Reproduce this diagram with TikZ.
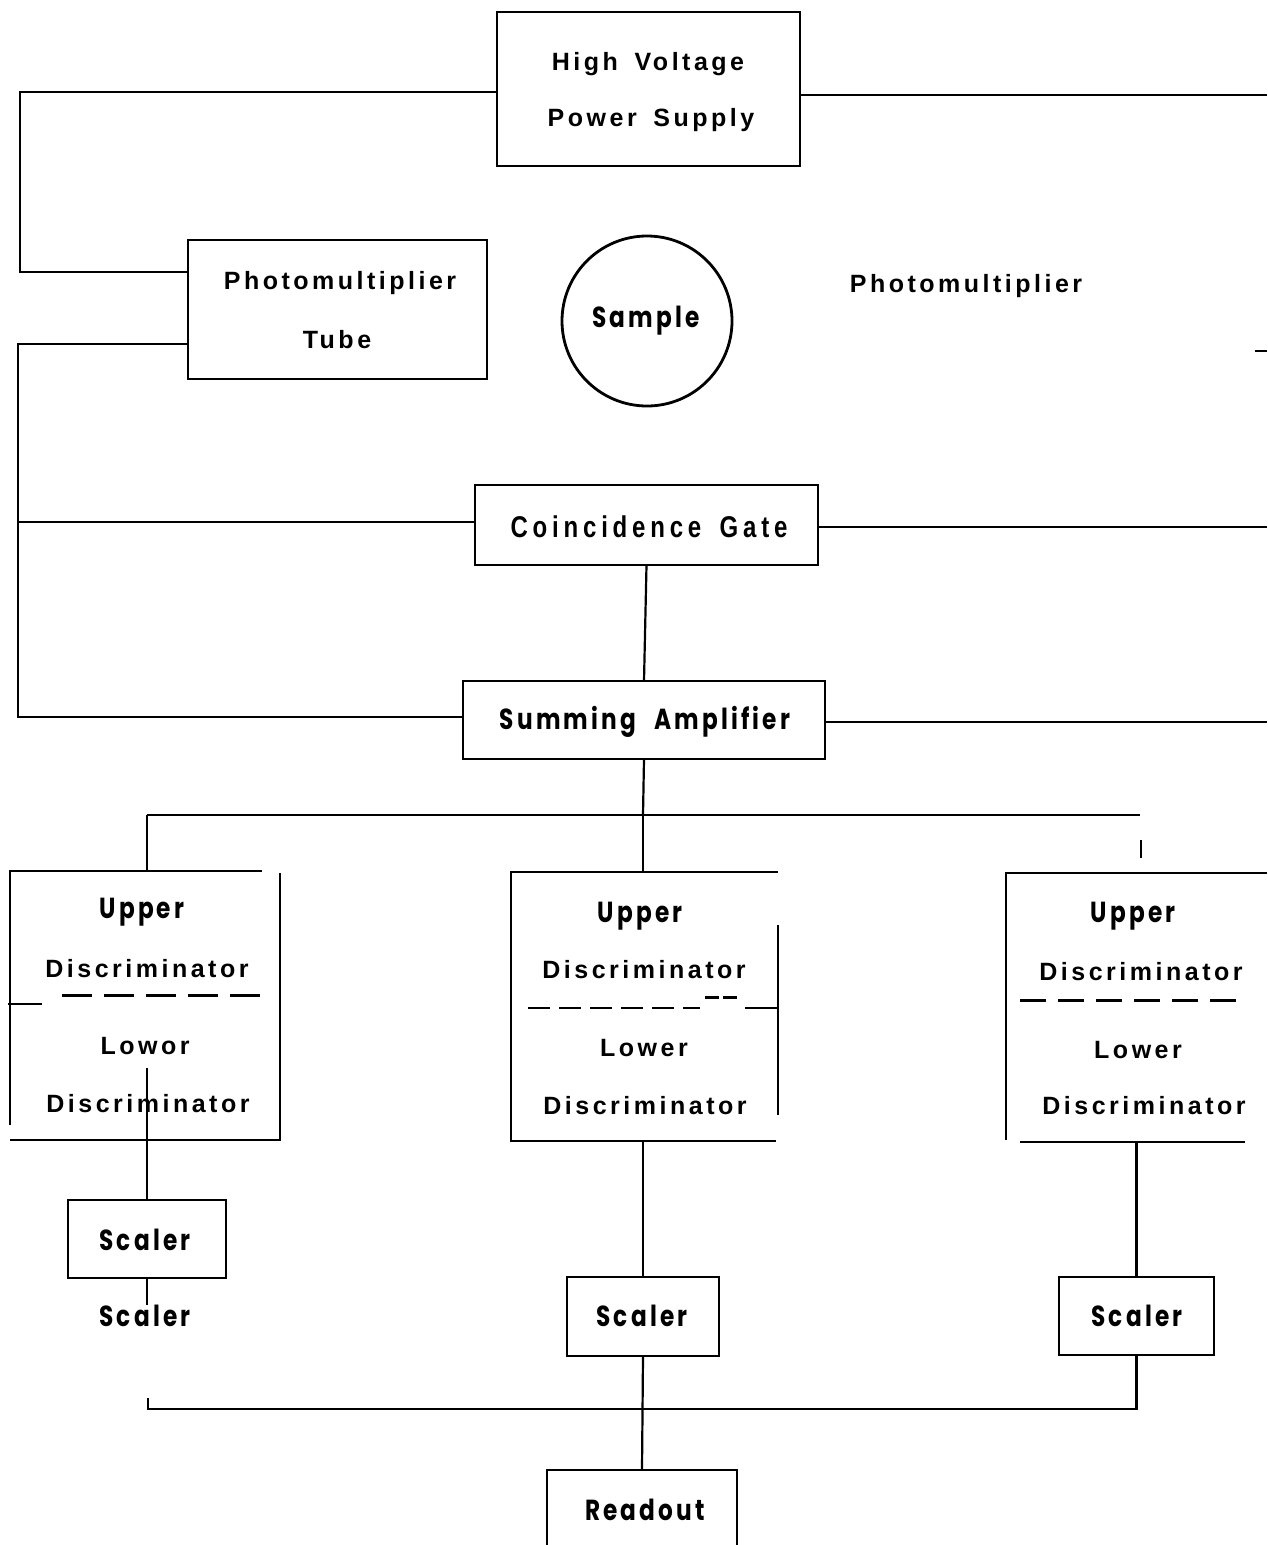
\documentclass[tikz,border=0pt]{standalone}
\usepackage{fontspec}
\newfontfamily\lblfont{Liberation Sans}[LetterSpace=14,WordSpace=1.6]
\newfontfamily\cndfont{Liberation Sans}[FakeStretch=0.8,LetterSpace=16,WordSpace=1.6]
\newfontfamily\geofont{Poppins}[FakeStretch=0.8,LetterSpace=11,WordSpace=2.2]
\begin{document}
\begin{tikzpicture}[x=1pt,y=-1pt,
  box/.style={draw,line width=2.8pt,inner sep=0pt,outer sep=0pt},
  lbl/.style={inner sep=0pt,text height=17pt,text depth=0pt,font=\lblfont\bfseries\fontsize{25}{25}\selectfont},
  cnd/.style={inner sep=0pt,text height=22pt,text depth=0pt,font=\cndfont\bfseries\fontsize{30}{30}\selectfont},
  geo/.style={inner sep=0pt,text height=21pt,text depth=0pt,font=\geofont\bfseries\fontsize{29}{29}\selectfont},
  wire/.style={line width=2.8pt},
  thinwire/.style={line width=2.2pt},
  frame/.style={line width=2.8pt},
  sepline/.style={line width=3pt,dash pattern=on 30pt off 12pt}
]
\useasboundingbox (0,0) rectangle (1267,1545);

% boxes
\node[box,minimum width=303pt,minimum height=154pt] (hv) at (648.5,89) {};
\node[box,minimum width=299pt,minimum height=139pt] (pmt) at (337.5,309.5) {};
\node[box,circle,minimum size=170pt] (smp) at (647,321) {};
\node[box,minimum width=343pt,minimum height=80pt] (cg) at (646.5,525) {};
\node[box,minimum width=362pt,minimum height=78pt] (sa) at (644,720) {};
\node[box,minimum width=158pt,minimum height=78pt] (sc1) at (147,1239) {};
\node[box,minimum width=152pt,minimum height=79pt] (sc2) at (643,1316.5) {};
\node[box,minimum width=155pt,minimum height=78pt] (sc3) at (1136.5,1316) {};
\node[box,minimum width=190pt,minimum height=76pt] (ro) at (642,1508) {};

% discriminator frames (drawn open as in the original)
\node[inner sep=0pt,minimum width=270pt,minimum height=269pt] (d1) at (145,1005.5) {};
\node[inner sep=0pt,minimum width=267pt,minimum height=269pt] (d2) at (644.5,1006.5) {};
\node[inner sep=0pt,minimum width=261pt,minimum height=268pt] (d3) at (1136.5,1007) {};
\draw[frame] (262,871) -- (10,871) -- (10,1125);
\draw[frame] (280,873) -- (280,1140) -- (10,1140);
\draw[thinwire] (8,1004) -- (42,1004);
\draw[sepline] (62,995) -- (265,995);

\draw[frame] (778,872) -- (511,872) -- (511,1141) -- (776,1141);
\draw[thinwire] (778,925) -- (778,1115);
\draw[line width=2.4pt,dash pattern=on 22pt off 9pt] (528,1008) -- (700,1008);
\draw[line width=3pt,dash pattern=on 14pt off 4pt] (705,997) -- (740,997);
\draw[thinwire] (745,1008) -- (778,1008);

\draw[frame] (1267,873) -- (1006,873) -- (1006,1140);
\draw[frame] (1020,1142) -- (1245,1142);
\draw[line width=3pt,dash pattern=on 26pt off 12pt] (1020,1000) -- (1247,1000);

% labels
\node[lbl] (t1) at (648,62) {High Voltage};
\node[lbl] (t2) at (651,118) {Power Supply};
\node[lbl] (t3) at (340,281) {Photomultiplier};
\node[lbl] (t4) at (337,340) {Tube};
\node[geo] (t5) at (646,317) {Sample};
\node[lbl] (t6) at (966,284) {Photomultiplier};
\node[cnd] (t7) at (649,526) {Coincidence Gate};
\node[geo] (t8) at (645,719) {Summing Amplifier};

\node[geo] (u1) at (142,908) {Upper};
\node[lbl] (u2) at (147,969) {Discriminator};
\node[lbl] (u3) at (145,1046) {Lowor};
\node[lbl] (u4) at (148,1104) {Discriminator};
\node[geo] (m1) at (640,912) {Upper};
\node[lbl] (m2) at (644,970) {Discriminator};
\node[lbl] (m3) at (644,1048) {Lower};
\node[lbl] (m4) at (645,1106) {Discriminator};
\node[geo] (r1t) at (1133,912) {Upper};
\node[lbl] (r2t) at (1141,972) {Discriminator};
\node[lbl] (r3t) at (1138,1050) {Lower};
\node[lbl] (r4t) at (1144,1106) {Discriminator};

\node[geo] (s1) at (145,1240) {Scaler};
\node[geo] (s1b) at (145,1316) {Scaler};
\node[geo] (s2) at (642,1316) {Scaler};
\node[geo] (s3) at (1137,1316) {Scaler};
\node[geo] (s4) at (645,1510) {Readout};

% connectors
\coordinate (h1) at (20,92);
\coordinate (h2) at (20,272);
\draw[wire] (hv.west |- h1) -- (h1) -- (h2) -- (pmt.west |- h2);
\coordinate (h3) at (18,344);
\coordinate (h4) at (18,717);
\coordinate (h5) at (18,522);
\draw[wire] (pmt.west |- h3) -- (h3) -- (h4) -- (sa.west |- h4);
\draw[wire] (h5) -- (cg.west |- h5);

\coordinate (e1) at (1267,95);
\coordinate (e2) at (1267,527);
\coordinate (e3) at (1267,722);
\draw[wire] (hv.east |- e1) -- (e1);
\draw[wire] (cg.east |- e2) -- (e2);
\draw[wire] (sa.east |- e3) -- (e3);
\coordinate (e4) at (1255,351);
\coordinate (e5) at (1267,351);
\draw[wire] (e4) -- (e5);

\draw[thinwire] (cg.south) -- (sa.north);
\coordinate (b0) at (643,815);
\coordinate (bl) at (147,815);
\coordinate (br) at (1140,815);
\draw[thinwire] (sa.south) -- (b0);
\draw[wire] (bl) -- (br);
\draw[thinwire] (bl) -- (bl |- d1.north);
\draw[thinwire] (b0) -- (b0 |- d2.north);
\coordinate (k1) at (1141,840);
\coordinate (k2) at (1141,858);
\draw[wire] (k1) -- (k2);

\coordinate (l1) at (147,1068);
\coordinate (l2) at (147,1305);
\draw[thinwire] (l1) -- (sc1.north);
\draw[thinwire] (sc1.south) -- (l2);
\draw[thinwire] (sc2.north |- d2.south) -- (sc2.north);
\draw[thinwire] (sc3.north |- d3.south) -- (sc3.north);

\coordinate (q0) at (148,1398);
\coordinate (q1) at (148,1409);
\draw[wire] (q0) -- (q1) -- (q1 -| sc3.south) -- (sc3.south);
\draw[thinwire] (sc2.south) -- (ro.north);
\end{tikzpicture}
\end{document}
